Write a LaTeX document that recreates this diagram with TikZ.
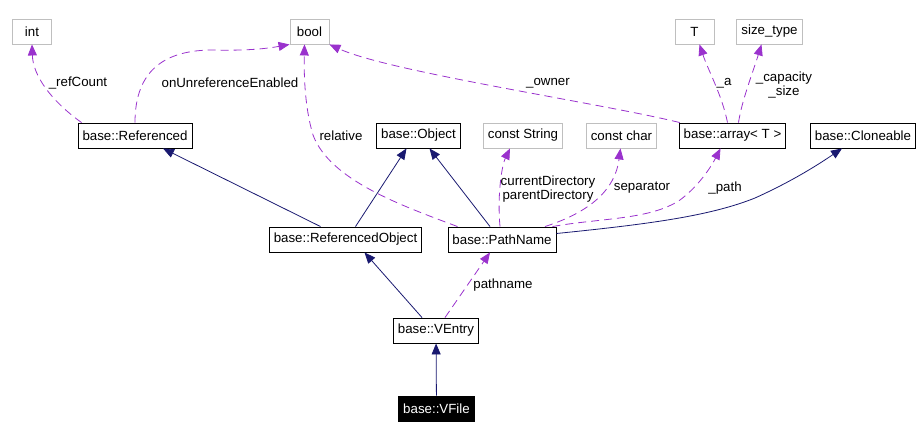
\documentclass[tikz,border=0pt]{standalone}
\usepackage{fontspec}
\setmainfont{Liberation Sans}
\usetikzlibrary{arrows.meta,calc}
\definecolor{navy}{HTML}{191970}
\definecolor{orchid}{HTML}{9A32CD}
\definecolor{boxgrey}{HTML}{BFBFBF}

\begin{document}
\begin{tikzpicture}[
  x=1pt, y=-1pt,
  font=\fontsize{13.3}{14.5}\selectfont,
  box/.style={draw, line width=0.9pt, minimum height=25pt, minimum width=39pt, inner xsep=4.5pt, inner ysep=0pt},
  extbox/.style={box, draw=boxgrey},
  inherit/.style={-{Triangle[length=11pt,width=9pt]}, navy, line width=0.8pt},
  uses/.style={-{Triangle[length=11pt,width=9pt]}, orchid, line width=0.8pt, dash pattern=on 8pt off 5pt},
  lbl/.style={align=center, inner sep=0pt}
]
  \useasboundingbox (0,0) rectangle (923,438);

  % --- top row (external types)
  \node[extbox] (int) at (32,31.5) {int};
  \node[extbox] (bool) at (309.5,31.5) {bool};
  \node[extbox] (t) at (694.5,31.5) {T};
  \node[extbox] (sizetype) at (769.5,31.5) {size\_type};

  % --- second row
  \node[box] (referenced) at (135,135.5) {base::Referenced};
  \node[box] (object) at (418.5,135.5) {base::Object};
  \node[extbox] (conststring) at (523,135.5) {const String};
  \node[extbox] (constchar) at (621.5,135.5) {const char};
  \node[box] (array) at (732.5,135.5) {base::array< T >};
  \node[box] (cloneable) at (863,135.5) {base::Cloneable};

  % --- third row
  \node[box] (refobject) at (345.5,239.5) {base::ReferencedObject};
  \node[box] (pathname) at (502,239.5) {base::PathName};

  % --- VEntry / VFile
  \node[box] (ventry) at (436,330.5) {base::VEntry};
  \node[box, fill=black, text=white] (vfile) at (436.5,408.5) {base::VFile};

  % --- inheritance
  \draw[inherit] (vfile) -- (ventry);
  \draw[inherit] ($(ventry.north)+(-14,0)$) -- ($(refobject.south)+(19,0)$);
  \draw[inherit] ($(refobject.north)+(-25,0)$) -- ($(referenced.south)+(28,0)$);
  \draw[inherit] ($(refobject.north)+(10,0)$) -- ($(object.south)+(-12,0)$);
  \draw[inherit] ($(pathname.north)+(-12,0)$) -- ($(object.south)+(11,0)$);
  \draw[inherit] ($(pathname.east)+(0,-6)$) .. controls (650,224) and (710,216) .. (755,198)
        .. controls (795,180) and (822,162) .. ($(cloneable.south)+(-21,0)$);

  % --- usage (members)
  \draw[uses] ($(referenced.north west)+(4,0)$) .. controls (50,100) and (33,75) .. (int.south);
  \node[lbl] (lrefcount) at (78,83) {\_refCount};
  \draw[uses] (referenced.north) .. controls (135,70) and (165,50) .. (213,50)
        .. controls (250,51) and (270,48) .. (bool.south west);
  \node[lbl] (lunref) at (230,83) {onUnreferenceEnabled};
  \draw[uses] ($(pathname.north west)+(10,0)$) .. controls (400,205) and (330,180) .. (313,135)
        .. controls (304,105) and (304,70) .. ($(bool.south)+(-5,0)$);
  \node[lbl] (lrelative) at (341,136) {relative};
  \draw[uses] ($(array.north west)+(1,0)$) .. controls (600,103) and (390,72) .. (bool.south east);
  \node[lbl] (lowner) at (548,83) {\_owner};
  \draw[uses] ($(array.north)+(-5,0)$) .. controls (722,95) and (708,70) .. ($(t.south)+(5,0)$);
  \node[lbl] (la) at (724,83) {\_a};
  \draw[uses] ($(array.north)+(6,0)$) .. controls (742,100) and (752,75) .. ($(sizetype.south)+(-8,0)$);
  \node[lbl] (lcapacity) at (784,85) {\_capacity\\\_size};
  \draw[uses] ($(pathname.north)+(-2,0)$) .. controls (497,195) and (502,165) .. ($(conststring.south)+(-13,0)$);
  \node[lbl] (ldirs) at (548,189) {currentDirectory\\parentDirectory};
  \draw[uses] ($(pathname.north)+(43,0)$) .. controls (590,212) and (615,190) .. ($(constchar.south)+(-1,0)$);
  \node[lbl] (lseparator) at (642,188) {separator};
  \draw[uses] ($(pathname.north east)+(-4,0)$) .. controls (600,218) and (650,220) .. (680,200)
        .. controls (700,185) and (712,165) .. ($(array.south)+(-12,0)$);
  \node[lbl] (lpath) at (725,188) {\_path};
  \draw[uses] ($(ventry.north)+(9,0)$) -- ($(pathname.south)+(-12,0)$);
  \node[lbl] (lpathname) at (503,285) {pathname};
\end{tikzpicture}
\end{document}
